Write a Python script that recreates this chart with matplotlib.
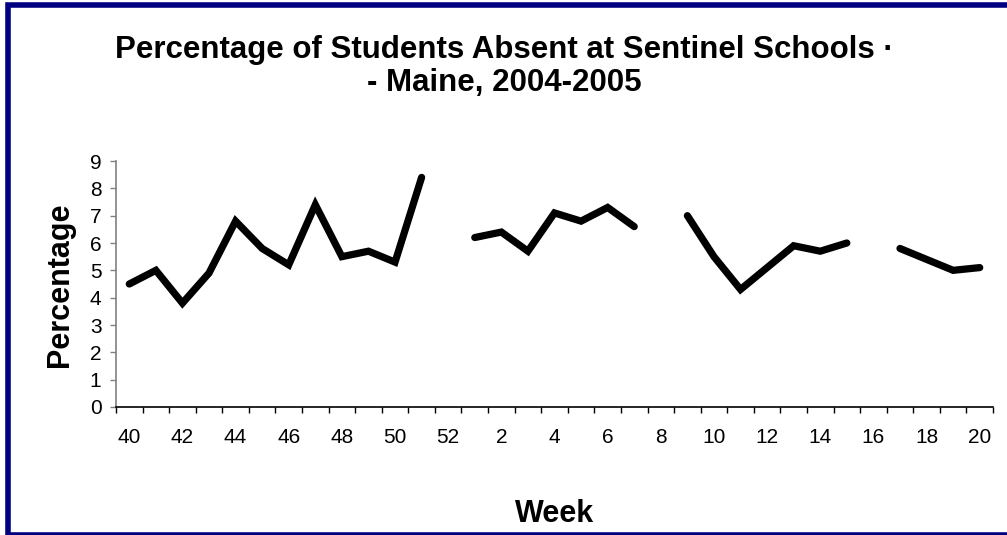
"""
Weekly student absenteeism at sentinel schools, Maine 2004-2005.
"""

import matplotlib
matplotlib.use("Agg")
import matplotlib.pyplot as plt
import numpy as np
from matplotlib.lines import Line2D

plt.rcParams.update({
    "font.family": "sans-serif",
    "font.sans-serif": ["Liberation Sans", "Arial", "DejaVu Sans"],
})

# surveillance weeks (season wraps from week 52 to week 1)
weeks = list(range(40, 53)) + list(range(1, 21))
# percent absent; None = no report that week
absent_pct = [4.5, 5.0, 3.8, 4.9, 6.8, 5.8, 5.2, 7.4, 5.5, 5.7, 5.3, 8.4, None,
              6.2, 6.4, 5.7, 7.1, 6.8, 7.3, 6.6, None,
              7.0, 5.5, 4.3, 5.1, 5.9, 5.7, 6.0, None,
              5.8, 5.4, 5.0, 5.1]
y_ticks = list(range(0, 10))

title = "Percentage of Students Absent at Sentinel Schools \u00b7\n- Maine, 2004-2005"

W, H = 1007, 535
fig = plt.figure(figsize=(W / 100, H / 100), dpi=100)
ax = fig.add_axes([116 / W, 1 - 407 / H, (993 - 116) / W, (407 - 161) / H])

x = np.arange(len(weeks))
y = np.array([np.nan if v is None else v for v in absent_pct], dtype=float)
ax.plot(x, y, color="black", linewidth=5.2, solid_capstyle="round", solid_joinstyle="miter")

ax.set_xlim(-0.5, len(weeks) - 0.5)
ax.set_ylim(0, 9)

# ticks on category boundaries, labels on every other category
ax.set_xticks(np.arange(len(weeks) + 1) - 0.5)
ax.set_xticklabels([])
ax.set_xticks(x[::2], minor=True)
ax.set_xticklabels([str(w) for w in weeks[::2]], minor=True)
ax.tick_params(axis="x", which="major", length=4.5, width=1, color="black", direction="out")
ax.tick_params(axis="x", which="minor", length=0, pad=15, labelsize=15)
ax.set_yticks(y_ticks)
ax.tick_params(axis="y", length=4.5, width=1, color="#808080", pad=6, labelsize=15)

for side in ("top", "right"):
    ax.spines[side].set_visible(False)
ax.spines["left"].set_color("#808080")
ax.spines["left"].set_linewidth(1.2)
ax.spines["bottom"].set_color("black")
ax.spines["bottom"].set_linewidth(1.2)

fig.text(504 / W, 1 - 66.5 / H, title, ha="center", va="center", fontsize=22.5,
         fontweight="bold", linespacing=1.15)
fig.text(60 / W, 1 - 285 / H, "Percentage", rotation=90, ha="center", va="center",
         fontsize=22, fontweight="bold")
fig.text(555 / W, 1 - 514 / H, "Week", ha="center", va="center", fontsize=22,
         fontweight="bold")

# navy frame: left, top and bottom edges (right edge runs off the picture)
x0, y_top = 7.5 / W, 1 - 4.5 / H
fig.add_artist(Line2D([1.0, x0, x0, 1.0], [y_top, y_top, 0.0, 0.0],
                      transform=fig.transFigure, color="#000080", linewidth=4.0,
                      solid_joinstyle="miter", zorder=10))

fig.savefig("out.png", dpi=100)
